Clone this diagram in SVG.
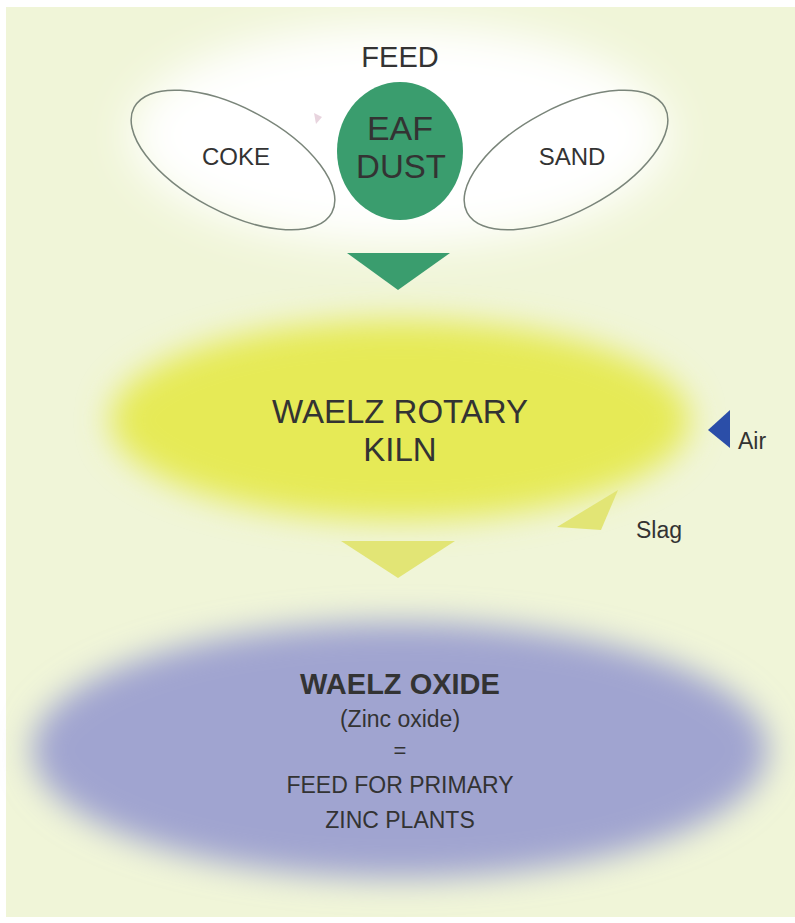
<svg xmlns="http://www.w3.org/2000/svg" width="795" height="923" viewBox="0 0 795 923">
<defs>
<filter id="blur" x="-20%" y="-30%" width="140%" height="160%"><feGaussianBlur stdDeviation="16"/></filter>
<filter id="blurS" x="-20%" y="-30%" width="140%" height="160%"><feGaussianBlur stdDeviation="22"/></filter>
<style>
text{font-family:"Liberation Sans","DejaVu Sans",sans-serif;fill:#333333;text-anchor:middle}
.out{fill:none;stroke:#7a857a;stroke-width:1.5}
</style>
</defs>
<rect width="795" height="923" fill="#ffffff"/>
<rect x="6" y="7" width="789" height="910" fill="#f0f5d8"/>
<ellipse cx="400" cy="135" rx="270" ry="110" fill="#ffffff" filter="url(#blurS)"/>
<text x="400" y="67" font-size="29">FEED</text>
<g id="coke">
<ellipse cx="233" cy="160" rx="112" ry="52" transform="rotate(28 233 160)" fill="#ffffff" class="out"/>
<text x="236" y="165" font-size="24">COKE</text>
</g>
<g id="eaf">
<ellipse cx="400" cy="151" rx="63" ry="69" fill="#3a9d6e"/>
<text x="400" y="140" font-size="34">EAF</text>
<text x="401" y="178" font-size="33">DUST</text>
</g>
<g id="sand">
<ellipse cx="566" cy="160" rx="112" ry="52" transform="rotate(-28 566 160)" fill="#ffffff" class="out"/>
<text x="572" y="165" font-size="24">SAND</text>
</g>
<g id="kiln">
<ellipse cx="400" cy="420" rx="290" ry="100" fill="#e6ea56" filter="url(#blur)"/>
<text x="400" y="423" font-size="33">WAELZ ROTARY</text>
<text x="400" y="461" font-size="33">KILN</text>
</g>
<g id="oxide">
<ellipse cx="400" cy="750" rx="368" ry="128" fill="#a0a4d0" filter="url(#blur)"/>
<text x="400" y="694" font-size="29" font-weight="bold" fill="#1a1a2a">WAELZ OXIDE</text>
<text x="400" y="727" font-size="23">(Zinc oxide)</text>
<text x="400" y="758" font-size="22">=</text>
<text x="400" y="793" font-size="23">FEED FOR PRIMARY</text>
<text x="400" y="828" font-size="23">ZINC PLANTS</text>
</g>
<g id="air">
<text x="738" y="449" font-size="23" style="text-anchor:start">Air</text>
</g>
<g id="slag">
<text x="636" y="538" font-size="23" style="text-anchor:start">Slag</text>
</g>
<g id="connectors">
<path d="M314 113 L322 117 L316 124 Z" fill="#d8b8c8" opacity="0.6"/>
<path d="M347 253 L450 253 L398 290 Z" fill="#3a9d6e"/>
<path d="M730 410 L708 430 L730 448 Z" fill="#2b4ea8"/>
<path d="M618 490 L557 527 L601 530 Z" fill="#e2e575"/>
<path d="M341 541 L455 541 L398 578 Z" fill="#e2e575"/>
</g>
</svg>
